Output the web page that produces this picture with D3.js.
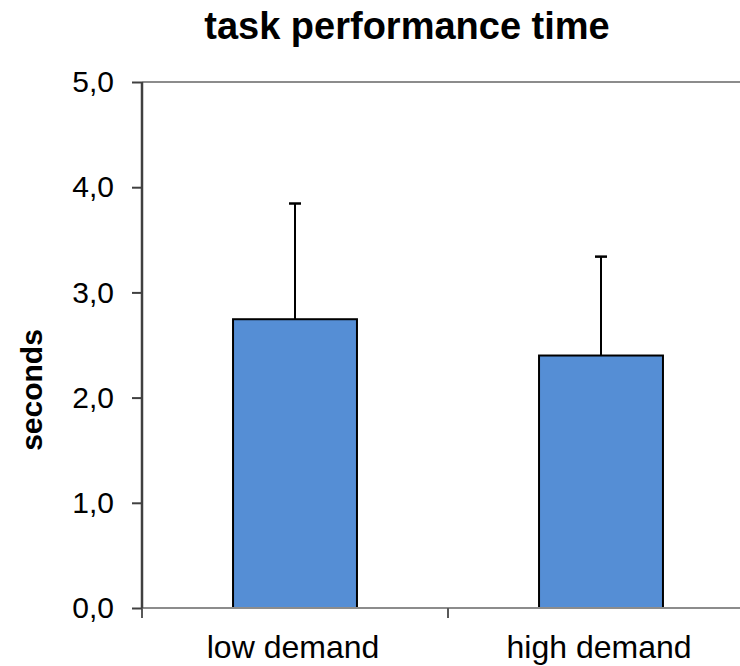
<!DOCTYPE html>
<html>
<head>
<meta charset="utf-8">
<script src="https://cdn.jsdelivr.net/npm/d3@7"></script>
<style>
  html, body { margin: 0; padding: 0; background: #fff; }
  svg { display: block; font-family: "Liberation Sans", Arial, sans-serif; }
</style>
</head>
<body>
<svg id="chart" width="740" height="666"></svg>
<script>
const title = "task performance time";
const yLabel = "seconds";
const categories = ["low demand", "high demand"];
const means = [2.745, 2.40];
const errors = [1.10, 0.94];
const yTicks = [0, 1, 2, 3, 4, 5];

const svg = d3.select("#chart");
const plotLeft = 142, plotRight = 754, plotTop = 82, plotBottom = 608;

const x = d3.scaleBand().domain(categories).range([plotLeft, plotRight]).padding(0);
const y = d3.scaleLinear().domain([0, 5]).range([plotBottom, plotTop]);
const barW = x.bandwidth() * 0.405;
const fmt = d => d3.format(".1f")(d).replace(".", ",");

// top border of plot area
svg.append("line")
  .attr("x1", plotLeft).attr("x2", plotRight)
  .attr("y1", y(5)).attr("y2", y(5))
  .attr("stroke", "#8c8c8c").attr("stroke-width", 2);

// bars
svg.selectAll("rect.bar").data(categories).enter().append("rect")
  .attr("class", "bar")
  .attr("x", d => x(d) + x.bandwidth() / 2 - barW / 2)
  .attr("y", (d, i) => y(means[i]))
  .attr("width", barW)
  .attr("height", (d, i) => y(0) - y(means[i]))
  .attr("fill", "#558ed5")
  .attr("stroke", "#000").attr("stroke-width", 2);

// error bars (upper only)
const eb = svg.selectAll("g.err").data(categories).enter().append("g").attr("class", "err");
eb.append("line")
  .attr("x1", d => x(d) + x.bandwidth() / 2)
  .attr("x2", d => x(d) + x.bandwidth() / 2)
  .attr("y1", (d, i) => y(means[i]))
  .attr("y2", (d, i) => y(means[i] + errors[i]))
  .attr("stroke", "#000").attr("stroke-width", 2);
eb.append("line")
  .attr("x1", d => x(d) + x.bandwidth() / 2 - 6)
  .attr("x2", d => x(d) + x.bandwidth() / 2 + 6)
  .attr("y1", (d, i) => y(means[i] + errors[i]))
  .attr("y2", (d, i) => y(means[i] + errors[i]))
  .attr("stroke", "#000").attr("stroke-width", 2.5);

// x axis
const xAxis = svg.append("g").attr("transform", `translate(0,${plotBottom})`);
xAxis.append("line")
  .attr("x1", plotLeft).attr("x2", plotRight).attr("y1", 0).attr("y2", 0)
  .attr("stroke", "#8c8c8c").attr("stroke-width", 2);
const boundaries = categories.map(c => x(c)).concat([plotRight]);
xAxis.selectAll("line.tick").data(boundaries).enter().append("line")
  .attr("class", "tick")
  .attr("x1", d => d).attr("x2", d => d).attr("y1", 0).attr("y2", 10)
  .attr("stroke", "#595959").attr("stroke-width", 2);
xAxis.selectAll("text").data(categories).enter().append("text")
  .attr("x", d => x(d) + x.bandwidth() / 2 - 2)
  .attr("y", 50)
  .attr("text-anchor", "middle")
  .attr("font-size", 32)
  .attr("fill", "#000")
  .text(d => d);

// y axis
const yAxis = svg.append("g").attr("transform", `translate(${plotLeft},0)`)
  .call(d3.axisLeft(y).tickValues(yTicks).tickFormat(fmt).tickSize(10).tickPadding(18));
yAxis.select(".domain").attr("stroke", "#404040").attr("stroke-width", 2.5)
  .attr("d", `M0,${plotTop}V${plotBottom}`);
yAxis.selectAll(".tick line").attr("stroke", "#404040").attr("stroke-width", 2);
yAxis.selectAll(".tick text")
  .attr("font-size", 30)
  .attr("font-family", "'Liberation Sans', Arial, sans-serif")
  .attr("fill", "#000");

// title
svg.append("text")
  .attr("x", 407).attr("y", 39)
  .attr("text-anchor", "middle")
  .attr("font-size", 38).attr("font-weight", "bold")
  .attr("fill", "#000")
  .text(title);

// y label
svg.append("text")
  .attr("transform", "translate(42,390) rotate(-90)")
  .attr("text-anchor", "middle")
  .attr("font-size", 30).attr("font-weight", "bold")
  .attr("fill", "#000")
  .text(yLabel);
</script>
</body>
</html>
